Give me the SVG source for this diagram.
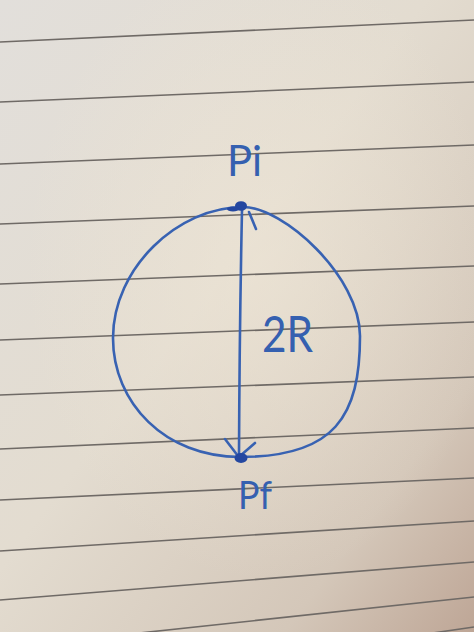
<svg xmlns="http://www.w3.org/2000/svg" width="474" height="632" viewBox="0 0 474 632">
  <defs>
    <linearGradient id="paper" x1="0" y1="0" x2="1" y2="1">
      <stop offset="0" stop-color="#e2dfdb"/>
      <stop offset="0.45" stop-color="#e3dcd0"/>
      <stop offset="0.8" stop-color="#d4c7b9"/>
      <stop offset="1" stop-color="#bea696"/>
    </linearGradient>
    <radialGradient id="glow" cx="0.55" cy="0.42" r="0.5">
      <stop offset="0" stop-color="#efe6d6" stop-opacity="0.6"/>
      <stop offset="1" stop-color="#efe6d6" stop-opacity="0"/>
    </radialGradient>
    <style>
      .rule { stroke: #6f6a66; stroke-width: 1.6; fill: none; }
      .ink { stroke: #3862b2; stroke-width: 2.6; fill: none; stroke-linecap: round; stroke-linejoin: round; }
      .dot { fill: #2447a0; }
      .lbl { fill: #3560b0; font-family: "Lato", "Open Sans", "DejaVu Sans", sans-serif; font-weight: 400; }
    </style>
  </defs>

  <g id="paper-bg">
    <rect width="474" height="632" fill="url(#paper)"/>
    <rect width="474" height="632" fill="url(#glow)"/>
  </g>

  <g id="rules">
    <line class="rule" x1="0" y1="42" x2="474" y2="20"/>
    <line class="rule" x1="0" y1="102" x2="474" y2="82"/>
    <line class="rule" x1="0" y1="164" x2="474" y2="145"/>
    <line class="rule" x1="0" y1="224" x2="474" y2="206"/>
    <line class="rule" x1="0" y1="284" x2="474" y2="266"/>
    <line class="rule" x1="0" y1="340" x2="474" y2="322"/>
    <line class="rule" x1="0" y1="395" x2="474" y2="377"/>
    <line class="rule" x1="0" y1="449" x2="474" y2="428"/>
    <line class="rule" x1="0" y1="500" x2="474" y2="478"/>
    <line class="rule" x1="0" y1="551" x2="474" y2="521"/>
    <line class="rule" x1="0" y1="600" x2="474" y2="562"/>
    <line class="rule" x1="0" y1="648" x2="474" y2="597"/>
    <line class="rule" x1="0" y1="696" x2="474" y2="627"/>
  </g>

  <g id="circle">
    <path class="ink" d="M243,207 C283,207 360,276 360,336 C360,416 335,457 240,457 C165,457 113,403 113,338 C113,268 178,207 243,207 Z"/>
  </g>

  <g id="connectors">
    <path class="ink" d="M242,210 Q239.5,330 239,455"/>
    <path class="ink" d="M225,439 L238,456 M255,443 L240,456"/>
    <path class="ink" stroke-width="2" d="M249,212 L256,229"/>
  </g>

  <g id="node-pi">
    <ellipse class="dot" cx="241" cy="206" rx="6" ry="4.8"/>
    <ellipse class="dot" cx="233" cy="209" rx="6" ry="2.6"/>
    <text class="lbl" x="227" y="176" font-size="42" textLength="35" lengthAdjust="spacingAndGlyphs">Pi</text>
  </g>

  <g id="node-pf">
    <ellipse class="dot" cx="241" cy="458" rx="6.5" ry="5"/>
    <text class="lbl" x="238" y="509" font-size="38" textLength="34" lengthAdjust="spacingAndGlyphs">Pf</text>
  </g>

  <g id="label-2r">
    <text class="lbl" x="262" y="352" font-size="50" textLength="51" lengthAdjust="spacingAndGlyphs">2R</text>
  </g>
</svg>
